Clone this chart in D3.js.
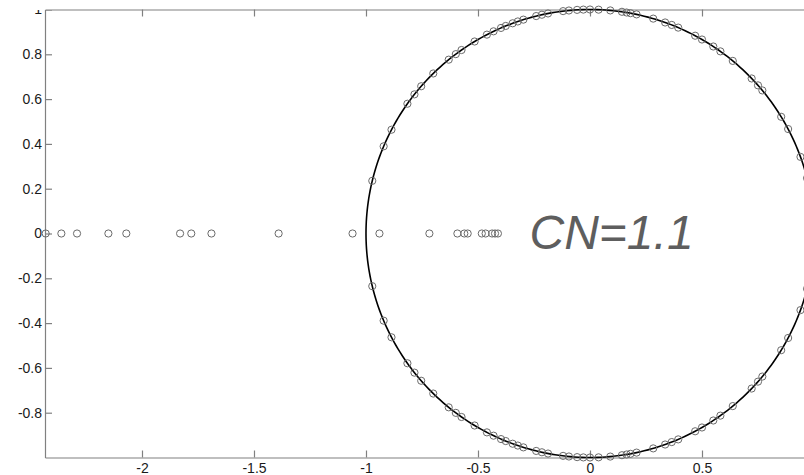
<!DOCTYPE html>
<html>
<head>
<meta charset="utf-8">
<script src="https://cdnjs.cloudflare.com/ajax/libs/d3/7.8.5/d3.min.js"></script>
<style>
  html, body { margin: 0; padding: 0; background: #fff; }
  svg { display: block; }
  .tick text { font-family: "Liberation Sans", Arial, Helvetica, sans-serif; font-size: 14px; fill: #1a1a1a; }
</style>
</head>
<body>
<svg id="chart" width="804" height="475"></svg>
<script>
// Eigenvalues on the negative real axis (reciprocal pairs λ, 1/λ)
const realEigs = [-2.43, -2.36, -2.29, -2.15, -2.07, -1.83, -1.78, -1.69, -1.39, -1.06,
                  -0.94, -0.717, -0.592, -0.561, -0.546, -0.483, -0.466, -0.437, -0.424, -0.411];

// Arguments (degrees) of the unit-circle eigenvalues in the upper half plane;
// the lower half holds their complex conjugates
const circleArgsDeg = [166.4, 157.1, 152.4, 144.6, 141.6, 138.9, 134.4, 129.1, 126.8, 125.0,
                       121.0, 117.4, 115.5, 113.4, 112.1, 110.2, 108.8, 107.3, 103.9, 102.4,
                       100.8, 96.9, 95.4, 93.3, 91.7, 90.0, 87.8, 84.8, 81.8, 80.6,
                       79.6, 78.0, 73.6, 70.4, 68.6, 66.8, 62.0, 60.0, 56.6, 54.4,
                       50.4, 43.8, 41.4, 39.7, 31.4, 27.8, 20.0, 14.3];

const xTicks = [-2, -1.5, -1, -0.5, 0, 0.5];
const yTicks = [-0.8, -0.6, -0.4, -0.2, 0, 0.2, 0.4, 0.6, 0.8, 1];
const annotation = "CN=1.1";

const svg = d3.select("#chart");
const plotLeft = 45, plotTop = 9.5, plotBottom = 457.5;
const unit = 224;

// equal-aspect axes: same pixels per unit on both axes
const x = d3.scaleLinear().domain([-2.433, 1]).range([plotLeft, plotLeft + 3.433 * unit]);
const y = d3.scaleLinear().domain([-1, 1]).range([plotBottom, plotTop]);

// points: real-axis eigenvalues plus conjugate pairs on the unit circle
const pts = realEigs.map(v => [v, 0]);
circleArgsDeg.forEach(a => {
  const t = a * Math.PI / 180;
  pts.push([Math.cos(t), Math.sin(t)]);
  pts.push([Math.cos(t), -Math.sin(t)]);
});

const fmt = d => String(d);  // plain hyphen-minus labels

// axes box (MATLAB-style ticks pointing inward)
const axisColor = "#808080";
const gBottom = svg.append("g").attr("transform", `translate(0,${plotBottom})`)
  .call(d3.axisBottom(x).tickValues(xTicks).tickSizeInner(-7).tickSizeOuter(0).tickPadding(6)
        .tickFormat(fmt));
const gTop = svg.append("g").attr("transform", `translate(0,${plotTop})`)
  .call(d3.axisTop(x).tickValues(xTicks).tickSizeInner(-7).tickSizeOuter(0).tickFormat(""));

// the label of the top tick is cut by the upper border of the figure
svg.append("clipPath").attr("id", "ylab").append("rect")
  .attr("x", -60).attr("y", plotTop + 0.5).attr("width", 80).attr("height", 475);
const gLeft = svg.append("g").attr("transform", `translate(${plotLeft},0)`)
  .attr("clip-path", "url(#ylab)")
  .call(d3.axisLeft(y).tickValues(yTicks).tickSizeInner(-7).tickSizeOuter(0).tickPadding(3)
        .tickFormat(fmt));

[gBottom, gTop, gLeft].forEach(g => {
  g.select(".domain").attr("stroke", axisColor).attr("stroke-width", 1.2);
  g.selectAll(".tick line").attr("stroke", axisColor).attr("stroke-width", 1.2);
});

// unit circle
const circ = d3.range(0, 361, 1).map(a => [Math.cos(a * Math.PI / 180), Math.sin(a * Math.PI / 180)]);
svg.append("path")
  .datum(circ)
  .attr("d", d3.line().x(d => x(d[0])).y(d => y(d[1])))
  .attr("fill", "none")
  .attr("stroke", "#000")
  .attr("stroke-width", 1.6);

// eigenvalue markers
svg.append("g").selectAll("circle")
  .data(pts)
  .join("circle")
  .attr("cx", d => x(d[0]))
  .attr("cy", d => y(d[1]))
  .attr("r", 3.6)
  .attr("fill", "none")
  .attr("stroke", "#6a6a6a")
  .attr("stroke-width", 1);

// condition-number annotation
svg.append("text")
  .attr("x", x(-0.27))
  .attr("y", y(-0.068))
  .attr("font-family", "Liberation Sans, Arial, Helvetica, sans-serif")
  .attr("font-style", "italic")
  .attr("font-size", 48)
  .attr("fill", "#5e5e5e")
  .text(annotation);
</script>
</body>
</html>
